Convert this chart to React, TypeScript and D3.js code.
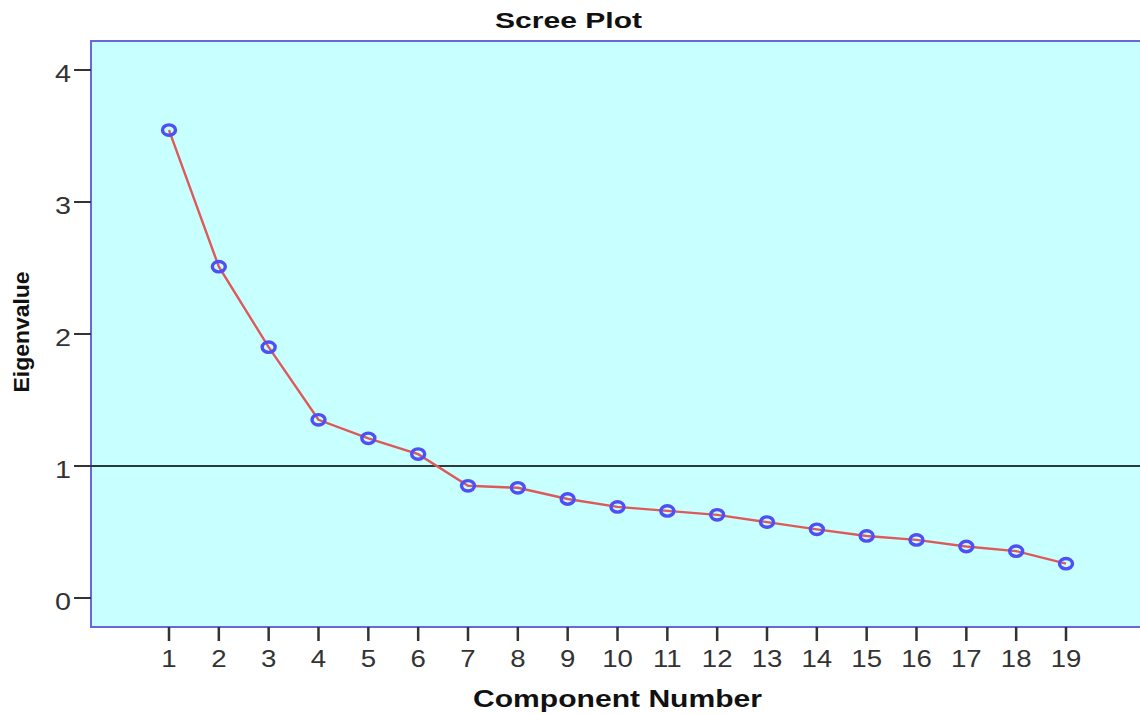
import React from "react";
import * as d3 from "d3";

const components = [1, 2, 3, 4, 5, 6, 7, 8, 9, 10, 11, 12, 13, 14, 15, 16, 17, 18, 19];
const eigenvalues = [3.545, 2.51, 1.9, 1.35, 1.21, 1.09, 0.85, 0.835, 0.75, 0.69, 0.66, 0.63, 0.575, 0.52, 0.47, 0.44, 0.39, 0.355, 0.26];
const yTicks = [0, 1, 2, 3, 4];
const referenceValue = 1;

const W = 1140;
const H = 714;
const plot = { left: 91, top: 41, right: 1142, bottom: 627 };
const font = "Arial, 'Liberation Sans', Helvetica, sans-serif";

export default function App() {
  const x = d3.scaleLinear().domain([1, 19]).range([169, 1066]);
  const y = d3.scaleLinear().domain([0, 4]).range([598, 70]);
  const line = d3
    .line<number>()
    .x((_, i) => x(components[i]))
    .y((d) => y(d));

  return (
    <svg
      width={W}
      height={H}
      style={{ position: "absolute", left: 0, top: 0, background: "#fff" }}
    >
      <rect
        x={plot.left}
        y={plot.top}
        width={plot.right - plot.left}
        height={plot.bottom - plot.top}
        fill="#c8ffff"
        stroke="#6767e0"
        strokeWidth={2}
      />
      <text
        x={568.5}
        y={28}
        textAnchor="middle"
        fontFamily={font}
        fontWeight="bold"
        fontSize={22}
        fill="#111"
        textLength={147}
        lengthAdjust="spacingAndGlyphs"
      >
        Scree Plot
      </text>
      {yTicks.map((t) => (
        <g key={t}>
          <line x1={plot.left - 17} x2={plot.left} y1={y(t)} y2={y(t)} stroke="#333" strokeWidth={2} />
          <text
            transform={`translate(${plot.left - 20},${y(t) + 11.5}) scale(1.25,1)`}
            textAnchor="end"
            fontFamily={font}
            fontSize={23}
            fill="#333"
          >
            {t}
          </text>
        </g>
      ))}
      {components.map((c) => (
        <g key={c}>
          <line x1={x(c)} x2={x(c)} y1={plot.bottom} y2={plot.bottom + 14} stroke="#333" strokeWidth={2.5} />
          <text
            transform={`translate(${x(c)},${plot.bottom + 40}) scale(1.2,1)`}
            textAnchor="middle"
            fontFamily={font}
            fontSize={23}
            fill="#333"
          >
            {c}
          </text>
        </g>
      ))}
      <line
        x1={plot.left}
        x2={plot.right}
        y1={y(referenceValue)}
        y2={y(referenceValue)}
        stroke="#2b3a3a"
        strokeWidth={2}
      />
      <path d={line(eigenvalues) || ""} fill="none" stroke="#de5a5a" strokeWidth={2.4} />
      {eigenvalues.map((v, i) => (
        <ellipse
          key={i}
          cx={x(components[i])}
          cy={y(v)}
          rx={6.5}
          ry={5.2}
          fill="none"
          stroke="#4f4ff5"
          strokeWidth={3.4}
        />
      ))}
      <text
        x={617.5}
        y={707}
        textAnchor="middle"
        fontFamily={font}
        fontWeight="bold"
        fontSize={24}
        fill="#111"
        textLength={289}
        lengthAdjust="spacingAndGlyphs"
      >
        Component Number
      </text>
      <text
        transform={`translate(29,332) rotate(-90)`}
        textAnchor="middle"
        fontFamily={font}
        fontWeight="bold"
        fontSize={22}
        fill="#111"
        textLength={121}
        lengthAdjust="spacingAndGlyphs"
      >
        Eigenvalue
      </text>
    </svg>
  );
}
